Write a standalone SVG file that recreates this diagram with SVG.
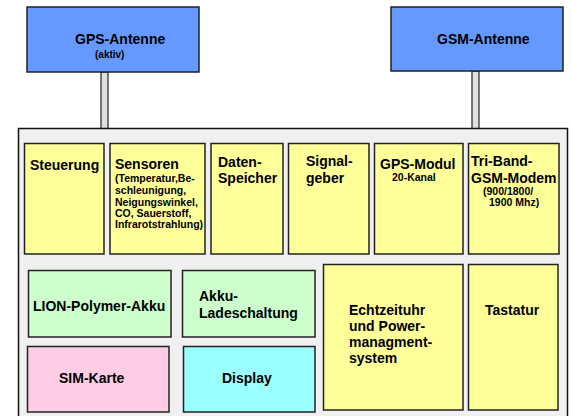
<svg xmlns="http://www.w3.org/2000/svg" width="571" height="416" viewBox="0 0 571 416">
<style>
text{font-family:"Liberation Sans",Arial,sans-serif;font-weight:bold;fill:#000}
.b{stroke:#222;stroke-width:1.5}
.ant{fill:#6699FF}
.y{fill:#FFFF99}
.g{fill:#CCFFCC}
.p{fill:#FFCCE6}
.c{fill:#99FFFF}
.l{font-size:14px}
.s{font-size:10.5px}
.conn{fill:#E0E0E0;stroke:#333;stroke-width:1.3}
</style>
<rect width="571" height="416" fill="#fff"/>
<g id="connectors">
<rect class="conn" x="101" y="72" width="7" height="57"/>
<rect class="conn" x="472" y="71" width="7" height="58"/>
</g>
<g id="geraet">
<rect x="18.5" y="128.5" width="549" height="300" fill="#F0F0F0" stroke="#111" stroke-width="1.5"/>
</g>
<g id="gps-antenne">
<rect class="b ant" x="27" y="7" width="172" height="65"/>
<text class="l" x="75" y="44">GPS-Antenne</text>
<text x="95" y="58" font-size="10">(aktiv)</text>
</g>
<g id="gsm-antenne">
<rect class="b ant" x="391" y="7" width="172" height="64"/>
<text class="l" x="437" y="44">GSM-Antenne</text>
</g>
<g id="steuerung">
<rect class="b y" x="24.5" y="143.5" width="79.5" height="110.5"/>
<text class="l" x="30" y="170">Steuerung</text>
</g>
<g id="sensoren">
<rect class="b y" x="110" y="143.5" width="95" height="110.5"/>
<text class="l" x="115" y="169">Sensoren</text>
<text class="s" x="115" y="182">(Temperatur,Be-</text>
<text class="s" x="115" y="194">schleunigung,</text>
<text class="s" x="115" y="205.5">Neigungswinkel,</text>
<text class="s" x="115" y="217">CO, Sauerstoff,</text>
<text class="s" x="115" y="228">Infrarotstrahlung)</text>
</g>
<g id="datenspeicher">
<rect class="b y" x="211" y="143.5" width="72" height="110.5"/>
<text class="l" x="218" y="167">Daten-</text>
<text class="l" x="218" y="183">Speicher</text>
</g>
<g id="signalgeber">
<rect class="b y" x="288.5" y="143.5" width="80.5" height="110.5"/>
<text class="l" x="306" y="166">Signal-</text>
<text class="l" x="306" y="183">geber</text>
</g>
<g id="gps-modul">
<rect class="b y" x="374.5" y="143.5" width="88.5" height="110.5"/>
<text class="l" x="380" y="168.5">GPS-Modul</text>
<text class="s" x="392" y="181">20-Kanal</text>
</g>
<g id="gsm-modem">
<rect class="b y" x="468.5" y="143.5" width="90.5" height="110.5"/>
<text class="l" x="471" y="166">Tri-Band-</text>
<text class="l" x="471" y="183">GSM-Modem</text>
<text class="s" x="483" y="194.5">(900/1800/</text>
<text class="s" x="489" y="206">1900 Mhz)</text>
</g>
<g id="akku">
<rect class="b g" x="28.5" y="270.5" width="142.5" height="66.5"/>
<text class="l" x="33" y="311">LION-Polymer-Akku</text>
</g>
<g id="ladeschaltung">
<rect class="b g" x="182.5" y="270.5" width="132.5" height="66.5"/>
<text class="l" x="199" y="301">Akku-</text>
<text class="l" x="199" y="318">Ladeschaltung</text>
</g>
<g id="sim-karte">
<rect class="b p" x="27.5" y="346.5" width="141.5" height="65.5"/>
<text class="l" x="59" y="383">SIM-Karte</text>
</g>
<g id="display">
<rect class="b c" x="183.5" y="346.5" width="131.5" height="65.5"/>
<text class="l" x="222" y="383">Display</text>
</g>
<g id="echtzeituhr">
<rect class="b y" x="323.5" y="264.5" width="139.5" height="145.5"/>
<text class="l" x="349" y="315">Echtzeituhr</text>
<text class="l" x="349" y="331">und Power-</text>
<text class="l" x="349" y="347">managment-</text>
<text class="l" x="349" y="363">system</text>
</g>
<g id="tastatur">
<rect class="b y" x="468.5" y="264.5" width="89.5" height="145.5"/>
<text class="l" x="485" y="315">Tastatur</text>
</g>
</svg>
